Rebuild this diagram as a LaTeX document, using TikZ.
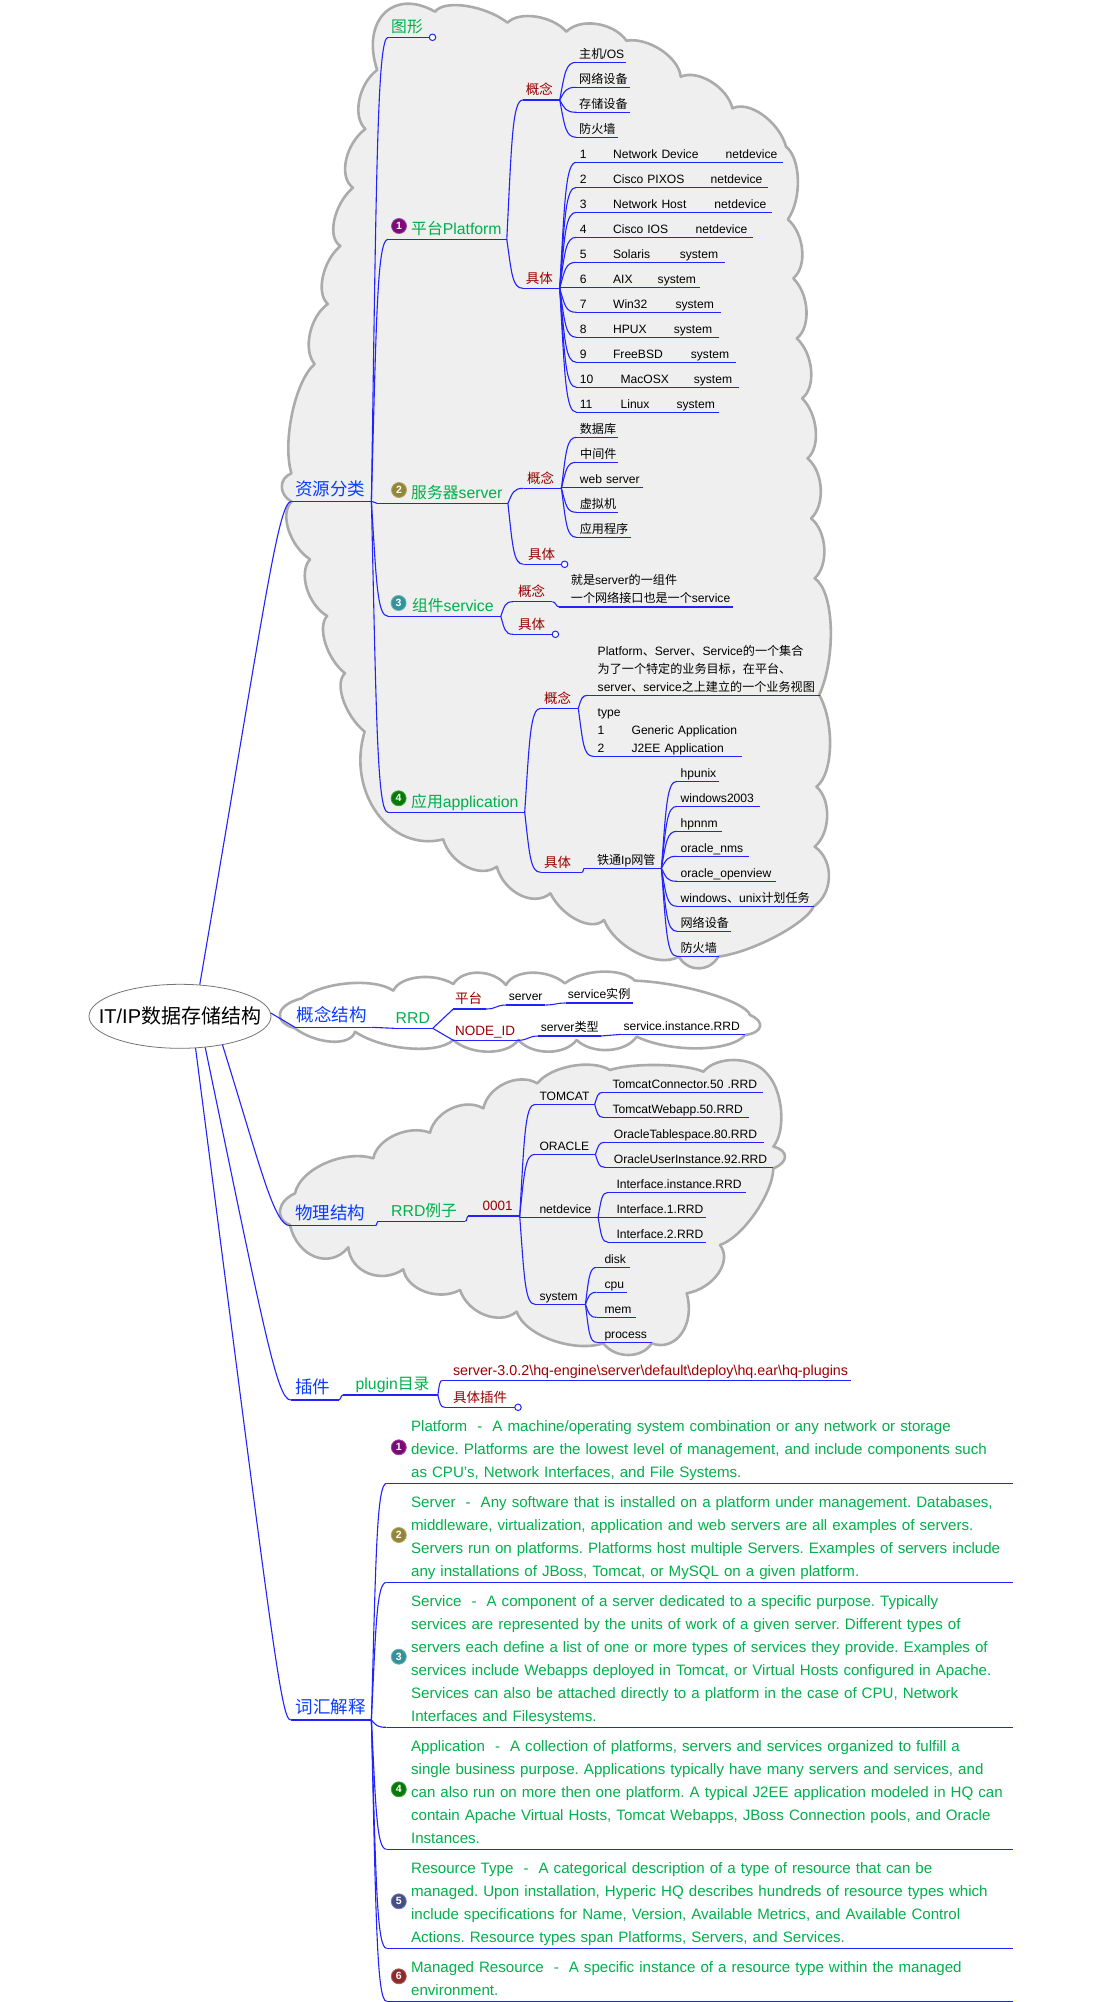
\documentclass[tikz,border=0pt]{standalone}
\usepackage{fontspec}
\setmainfont{Liberation Sans}
\newfontfamily\cjk{Noto Sans CJK SC}
\usetikzlibrary{calc,shapes.geometric}
\definecolor{linkblue}{HTML}{2222FF}
\definecolor{lblue}{HTML}{0A3CFF}
\definecolor{lgreen}{HTML}{00B04A}
\definecolor{lred}{HTML}{990000}
\definecolor{cloudfill}{HTML}{EFEFEF}
\definecolor{cloudline}{HTML}{ABABAB}
\definecolor{bpurple}{HTML}{7A0A7A}
\definecolor{bolive}{HTML}{948636}
\definecolor{bteal}{HTML}{35929A}
\definecolor{bgreen}{HTML}{067A06}
\definecolor{bnavy}{HTML}{454F85}
\definecolor{bred}{HTML}{8F2A2A}
\def\C#1{{\cjk #1}}
\frenchspacing
\newcommand\ml[1]{\begin{tabular}[b]{@{}l@{}}#1\end{tabular}}
\tikzset{
  link/.style={draw=linkblue,line width=1.1pt},
  topic/.style={inner sep=0pt,align=left},
  lvone/.style={font=\fontsize{17.5}{21}\selectfont,text=lblue,text depth=6pt},
  lvtwo/.style={font=\fontsize{15.8}{18}\selectfont,text=lgreen,text depth=5pt},
  lvred/.style={font=\fontsize{13.5}{16}\selectfont,text=lred,text depth=5pt},
  lvpath/.style={font=\fontsize{14.3}{16}\selectfont,text=lred,text depth=5pt},
  lvblk/.style={font=\fontsize{12.1}{18}\selectfont,text=black,text depth=4pt},
  lvdef/.style={font=\fontsize{15.1}{23}\selectfont,text=lgreen,text depth=6pt},
  fold/.style={circle,draw=linkblue,fill=white,line width=1pt,minimum size=6.5pt,inner sep=0pt},
  badge/.style={circle,fill=#1,draw=#1!75!white,line width=.8pt,minimum size=15pt,inner sep=0pt,text=white,font=\fontsize{10.5}{12}\selectfont\bfseries},
  cloudshape/.style={draw=cloudline,line width=2.6pt,line join=round},
  rootnode/.style={ellipse,draw=black!55,line width=.8pt,minimum width=182pt,minimum height=64pt,inner xsep=-17pt,inner ysep=0pt,font=\fontsize{20}{24}\selectfont,text=black},
}
% name x0 x1 y style textx text
\newcommand\tp[7]{%
  \pgfmathsetmacro\tpw{#3-#2}\pgfmathsetmacro\tpo{#6-#2}%
  \node[topic,#5,anchor=south west,text width=\tpw pt] (#1) at (#2,#4) {\hspace*{\tpo pt}\mbox{#7}};
  \draw[link] (#1.south west) -- (#1.south east);}
% curved connector that runs vertically and turns into the child
\newcommand\cn[2]{\draw[link] let \p1=(#1.south east),\p2=(#2.south west) in
  (\p1) .. controls ({\x1+0.3*(\x2-\x1)},{\y1+0.7*(\y2-\y1)}) and ({\x1+0.35*(\x2-\x1)},{\y2}) .. (\p2);}
% short S connector
\newcommand\sn[2]{\draw[link] let \p1=(#1.south east),\p2=(#2.south west) in
  (\p1) .. controls ({0.5*\x1+0.5*\x2},{\y1}) and ({0.5*\x1+0.5*\x2},{\y2}) .. (\p2);}
\newcommand\cnl[2]{\draw[link] (#1.south east) -- (#2.south west);}
% cloud lobe: from (#1,#2) through (#3,#4) to (#5,#6)
\def\lb#1#2#3#4#5#6{.. controls ({4/3*#3-(#1+#5)/6-0.28*(#5-#1)},{4/3*#4-(#2+#6)/6-0.28*(#6-#2)}) and ({4/3*#3-(#1+#5)/6+0.28*(#5-#1)},{4/3*#4-(#2+#6)/6+0.28*(#6-#2)}) .. (#5,#6)}
\begin{document}
\begin{tikzpicture}[x=1pt,y=-1pt]
\useasboundingbox (0,0) rectangle (1101,2002);
% ---------- clouds
\begin{scope}[shift={(270,0)},x=0.35714pt,y=-0.33333pt]
\draw[cloudshape,fill=cloudfill] (300,210)
 \lb{300}{210}{320}{40}{462}{35}
 \lb{462}{35}{550}{18}{665}{68}
 \lb{665}{68}{745}{50}{830}{95}
 \lb{830}{95}{915}{72}{998}{122}
 \lb{998}{122}{1095}{150}{1150}{230}
 \lb{1150}{230}{1235}{245}{1295}{325}
 \lb{1295}{325}{1380}{345}{1445}{440}
 \lb{1445}{440}{1478}{540}{1450}{658}
 \lb{1450}{658}{1490}{750}{1465}{835}
 \lb{1465}{835}{1502}{930}{1475}{1015}
 \lb{1475}{1015}{1515}{1110}{1490}{1195}
 \lb{1490}{1195}{1528}{1290}{1505}{1375}
 \lb{1505}{1375}{1542}{1465}{1515}{1555}
 \lb{1515}{1555}{1552}{1645}{1525}{1735}
 \lb{1525}{1735}{1570}{1880}{1538}{2085}
 \lb{1538}{2085}{1568}{2240}{1530}{2360}
 \lb{1530}{2360}{1560}{2450}{1525}{2540}
 \lb{1525}{2540}{1565}{2630}{1522}{2720}
 \lb{1522}{2720}{1415}{2810}{1255}{2870}
 \lb{1255}{2870}{1200}{2905}{1145}{2870}
 \lb{1145}{2870}{1030}{2860}{935}{2760}
 \lb{935}{2760}{860}{2760}{785}{2680}
 \lb{785}{2680}{700}{2685}{635}{2600}
 \lb{635}{2600}{550}{2600}{485}{2518}
 \lb{485}{2518}{300}{2440}{265}{2195}
 \lb{265}{2195}{205}{2100}{210}{2020}
 \lb{210}{2020}{155}{1930}{160}{1848}
 \lb{160}{1848}{103}{1765}{112}{1678}
 \lb{112}{1678}{52}{1590}{60}{1505}
 \lb{60}{1505}{33}{1460}{60}{1420}
 \lb{60}{1420}{62}{1240}{125}{1092}
 \lb{125}{1092}{112}{1000}{162}{912}
 \lb{162}{912}{148}{830}{197}{738}
 \lb{197}{738}{180}{660}{232}{563}
 \lb{232}{563}{213}{480}{267}{387}
 \lb{267}{387}{250}{300}{300}{210} -- cycle;
\end{scope}
\begin{scope}[shift={(275,970)},x=0.33333pt,y=-0.33333pt]
\draw[cloudshape] (355,62)
 \lb{355}{62}{430}{22}{535}{42}
 \lb{535}{42}{610}{8}{693}{45}
 \lb{693}{45}{770}{8}{870}{40}
 \lb{870}{40}{980}{5}{1080}{32}
 \lb{1080}{32}{1300}{70}{1425}{135}
 \lb{1425}{135}{1455}{170}{1410}{195}
 \lb{1410}{195}{1270}{235}{1085}{200}
 \lb{1085}{200}{1000}{240}{905}{210}
 \lb{905}{210}{820}{245}{730}{210}
 \lb{730}{210}{640}{245}{535}{210}
 \lb{535}{210}{400}{235}{240}{185}
 \lb{240}{185}{170}{215}{60}{175}
 \lb{60}{175}{15}{130}{80}{85}
 \lb{80}{85}{220}{40}{355}{62} -- cycle;
\end{scope}
\begin{scope}[shift={(275,1060)},x=0.33333pt,y=-0.33333pt]
\draw[cloudshape,fill=cloudfill] (295,295)
 \lb{295}{295}{360}{225}{465}{218}
 \lb{465}{218}{530}{145}{625}{145}
 \lb{625}{145}{690}{70}{787}{70}
 \lb{787}{70}{890}{18}{1005}{30}
 \lb{1005}{30}{1150}{15}{1285}{35}
 \lb{1285}{35}{1380}{0}{1475}{40}
 \lb{1475}{40}{1518}{150}{1495}{260}
 \lb{1495}{260}{1530}{290}{1495}{325}
 \lb{1495}{325}{1440}{460}{1335}{555}
 \lb{1335}{555}{1330}{640}{1235}{700}
 \lb{1235}{700}{1220}{820}{1130}{850}
 \lb{1130}{850}{1060}{885}{985}{850}
 \lb{985}{850}{830}{840}{725}{755}
 \lb{725}{755}{630}{765}{555}{690}
 \lb{555}{690}{450}{695}{385}{628}
 \lb{385}{628}{280}{640}{220}{562}
 \lb{220}{562}{120}{590}{45}{495}
 \lb{45}{495}{15}{450}{60}{400}
 \lb{60}{400}{150}{310}{295}{295} -- cycle;
\end{scope}
% ---------- root
\node[rootnode] (root) at (180,1016.3) {IT/IP\C{数据存储结构}};
% ---------- level one
\tp{res}{291.4}{371}{501.3}{lvone}{295}{\C{资源分类}}
\tp{con}{295}{371}{1027.3}{lvone}{296.7}{\C{概念结构}}
\tp{phy}{290}{375}{1225.7}{lvone}{295}{\C{物理结构}}
\tp{plg}{290.7}{338.2}{1400}{lvone}{295}{\C{插件}}
\tp{voc}{290.7}{371}{1720}{lvone}{295.5}{\C{词汇解释}}
% ---------- resources
\tp{shape}{388}{429}{37.3}{lvtwo}{391}{\C{图形}}
\node[fold] (shapef) at (432.5,37.3) {};
\tp{plat}{388}{506.4}{239.3}{lvtwo}{411}{\C{平台}Platform}
\node[badge=bpurple] (b1) at (399,226) {1};
\tp{pcon}{522.9}{559.3}{100}{lvred}{525.7}{\C{概念}}
\tp{pspec}{522.9}{559.3}{288.3}{lvred}{525.7}{\C{具体}}
\tp{pa}{576.4}{626}{62.3}{lvblk}{579}{\C{主机}/OS}
\tp{pb}{576.4}{629.6}{87.3}{lvblk}{579}{\C{网络设备}}
\tp{pc}{576.4}{629.6}{112.3}{lvblk}{579}{\C{存储设备}}
\tp{pd}{576.4}{617.5}{137.3}{lvblk}{579}{\C{防火墙}}
\newcommand\row[4]{\makebox[33.3pt][l]{#1}\makebox[#3][l]{#2}#4}
\tp{i1}{576.4}{782.9}{162.3}{lvblk}{579.6}{\row{1}{Network Device}{112.5pt}{netdevice}}
\tp{i2}{576.4}{767.5}{187.3}{lvblk}{579.6}{\row{2}{Cisco PIXOS}{97.5pt}{netdevice}}
\tp{i3}{576.4}{771.8}{212.3}{lvblk}{579.6}{\row{3}{Network Host}{101.4pt}{netdevice}}
\tp{i4}{576.4}{752.9}{237.3}{lvblk}{579.6}{\row{4}{Cisco IOS}{82.5pt}{netdevice}}
\tp{i5}{576.4}{724.6}{262.3}{lvblk}{579.6}{\row{5}{Solaris}{66.7pt}{system}}
\tp{i6}{559.3}{699.6}{287.3}{lvblk}{579.6}{\row{6}{AIX}{44.6pt}{system}}
\tp{i7}{576.4}{720.7}{312.3}{lvblk}{579.6}{\row{7}{Win32}{62.5pt}{system}}
\tp{i8}{576.4}{718.6}{337.3}{lvblk}{579.6}{\row{8}{HPUX}{60.7pt}{system}}
\tp{i9}{576.4}{735.7}{362.3}{lvblk}{579.6}{\row{9}{FreeBSD}{77.8pt}{system}}
\newcommand\rowb[4]{\makebox[40.8pt][l]{#1}\makebox[#3][l]{#2}#4}
\tp{i10}{576.4}{738.6}{387.3}{lvblk}{579.6}{\rowb{10}{MacOSX}{73.2pt}{system}}
\tp{i11}{576.4}{718.6}{412.3}{lvblk}{579.6}{\rowb{11}{Linux}{56pt}{system}}
\tp{serv}{377}{507.5}{503.3}{lvtwo}{411}{\C{服务器}server}
\node[badge=bolive] (b2) at (399,490) {2};
\tp{scon}{523.6}{561}{488.3}{lvred}{527}{\C{概念}}
\tp{sspec}{523.6}{561}{564.3}{lvred}{527.9}{\C{具体}}
\node[fold] (sspecf) at (564.6,564.3) {};
\tp{sa}{576.4}{618}{437.3}{lvblk}{579.6}{\C{数据库}}
\tp{sb}{576.4}{618}{462.3}{lvblk}{580}{\C{中间件}}
\tp{sc}{561}{642.5}{487.3}{lvblk}{579.6}{web server}
\tp{sd}{576.4}{618}{512.3}{lvblk}{579.6}{\C{虚拟机}}
\tp{se}{576.4}{630.7}{537.3}{lvblk}{579.6}{\C{应用程序}}
\tp{svc}{388}{500.4}{616.3}{lvtwo}{411.8}{\C{组件}service}
\node[badge=bteal] (b3) at (398.6,603) {3};
\tp{vcon}{512.9}{552}{601.7}{lvred}{517.9}{\C{概念}}
\tp{vtxt}{559.3}{732.5}{607}{lvblk}{570.7}{\ml{\C{就是}server\C{的一组件}\\\C{一个网络接口也是一个}service}}
\tp{vspec}{512.9}{552}{634.3}{lvred}{517.9}{\C{具体}}
\node[fold] (vspecf) at (555.4,634.3) {};
\tp{app}{388}{524.3}{812.3}{lvtwo}{411}{\C{应用}application}
\node[badge=bgreen] (b4) at (398.6,798.3) {4};
\tp{acon}{540.7}{577.9}{708.3}{lvred}{543.9}{\C{概念}}
\tp{aspec}{540.7}{581.8}{872.3}{lvred}{543.9}{\C{具体}}
\tp{atxt}{587.9}{820}{695.3}{lvblk}{597.5}{\ml{Platform\C{、}Server\C{、}Service\C{的一个集合}\\\C{为了一个特定的业务目标，在平台、}\\server\C{、}service\C{之上建立的一个业务视图}}}
\tp{atype}{593.2}{741.4}{756.3}{lvblk}{597.5}{\ml{type\\\makebox[33.9pt][l]{1}Generic Application\\\makebox[33.9pt][l]{2}J2EE Application}}
\tp{arail}{584.3}{661}{868.3}{lvblk}{596.8}{\C{铁通}Ip\C{网管}}
\tp{ra}{677}{718.6}{781.3}{lvblk}{680.4}{hpunix}
\tp{rb}{677}{759.3}{806.3}{lvblk}{680.4}{windows2003}
\tp{rc}{677}{721.8}{831.3}{lvblk}{680.4}{hpnnm}
\tp{rd}{677}{748.6}{856.3}{lvblk}{680.4}{oracle\_nms}
\tp{re}{677}{775.7}{881.3}{lvblk}{680.4}{oracle\_openview}
\tp{rf}{677}{813.6}{906.3}{lvblk}{680.4}{windows\C{、}unix\C{计划任务}}
\tp{rg}{677}{730.7}{931.3}{lvblk}{680.4}{\C{网络设备}}
\tp{rh}{677}{718.6}{956.3}{lvblk}{680.4}{\C{防火墙}}
% ---------- concept structure
\tp{rrd}{394.3}{432.3}{1028.3}{lvtwo}{395.5}{RRD}
\tp{cplat}{453.3}{485.7}{1009}{lvred}{455}{\C{平台}}
\tp{cserv}{506.3}{545}{1005}{lvblk}{508.7}{server}
\tp{cinst}{565.7}{632.7}{1003}{lvblk}{567.7}{service\C{实例}}
\tp{cnode}{453.3}{517.7}{1040.3}{lvred}{455}{NODE\_ID}
\tp{ctype}{538.3}{600.7}{1036}{lvblk}{540.7}{server\C{类型}}
\tp{crrd}{621.7}{745}{1034.3}{lvblk}{623.3}{service.instance.RRD}
% ---------- physical structure
\tp{prrd}{378.3}{465}{1221.3}{lvtwo}{391}{RRD\C{例子}}
\tp{p0}{468.3}{519.3}{1216}{lvred}{482.3}{0001}
\tp{tom}{535}{594.3}{1104.3}{lvblk}{539.3}{TOMCAT}
\tp{ora}{535}{595}{1154.3}{lvblk}{539.3}{ORACLE}
\tp{net}{519.3}{597.7}{1217.3}{lvblk}{539.3}{netdevice}
\tp{sys}{535}{585}{1304.3}{lvblk}{539.3}{system}
\tp{ta}{603.3}{762.7}{1092.3}{lvblk}{612.3}{TomcatConnector.50 .RRD}
\tp{tb}{603.3}{748.7}{1117.3}{lvblk}{612.3}{TomcatWebapp.50.RRD}
\tp{oa}{605}{763.7}{1142.3}{lvblk}{613.7}{OracleTablespace.80.RRD}
\tp{ob}{605}{772.7}{1167.3}{lvblk}{613.7}{OracleUserInstance.92.RRD}
\tp{na}{608.3}{745.7}{1192.3}{lvblk}{616.3}{Interface.instance.RRD}
\tp{nb}{597.7}{705.7}{1217.3}{lvblk}{616.3}{Interface.1.RRD}
\tp{nc}{608.3}{705.7}{1242.3}{lvblk}{616.3}{Interface.2.RRD}
\tp{ya}{596.7}{629.7}{1267.3}{lvblk}{604.3}{disk}
\tp{yb}{596.7}{627}{1292.3}{lvblk}{604.3}{cpu}
\tp{yc}{596.7}{635.7}{1317.3}{lvblk}{604.3}{mem}
\tp{yd}{596.7}{651.7}{1342.3}{lvblk}{604.3}{process}
% ---------- plugin
\tp{pdir}{343}{437.5}{1395}{lvtwo}{355.5}{plugin\C{目录}}
\tp{ppath}{442.7}{850.6}{1380.3}{lvpath}{452.8}{server-3.0.2\textbackslash hq-engine\textbackslash server\textbackslash default\textbackslash deploy\textbackslash hq.ear\textbackslash hq-plugins}
\tp{pspecb}{444.8}{515}{1407.3}{lvred}{453}{\C{具体插件}}
\node[fold] (pspecf) at (518,1407.3) {};
% ---------- glossary
\tp{d1}{386.6}{1013}{1483.3}{lvdef}{410.9}{\ml{Platform\ \ -\ \ A machine/operating system combination or any network or storage\\device. Platforms are the lowest level of management, and include components such\\as CPU's, Network Interfaces, and File Systems.}}
\node[badge=bpurple] (g1) at (398.8,1447.3) {1};
\tp{d2}{386.6}{1013}{1582.3}{lvdef}{410.9}{\ml{Server\ \ -\ \ Any software that is installed on a platform under management. Databases,\\middleware, virtualization, application and web servers are all examples of servers.\\Servers run on platforms. Platforms host multiple Servers. Examples of servers include\\any installations of JBoss, Tomcat, or MySQL on a given platform.}}
\node[badge=bolive] (g2) at (398.8,1535) {2};
\tp{d3}{386.6}{1013}{1727.3}{lvdef}{410.9}{\ml{Service\ \ -\ \ A component of a server dedicated to a specific purpose. Typically\\services are represented by the units of work of a given server. Different types of\\servers each define a list of one or more types of services they provide. Examples of\\services include Webapps deployed in Tomcat, or Virtual Hosts configured in Apache.\\Services can also be attached directly to a platform in the case of CPU, Network\\Interfaces and Filesystems.}}
\node[badge=bteal] (g3) at (398.8,1656.7) {3};
\tp{d4}{386.6}{1013}{1849.3}{lvdef}{410.9}{\ml{Application\ \ -\ \ A collection of platforms, servers and services organized to fulfill a\\single business purpose. Applications typically have many servers and services, and\\can also run on more then one platform. A typical J2EE application modeled in HQ can\\contain Apache Virtual Hosts, Tomcat Webapps, JBoss Connection pools, and Oracle\\Instances.}}
\node[badge=bgreen] (g4) at (398.8,1789.3) {4};
\tp{d5}{386.6}{1013}{1948.3}{lvdef}{410.9}{\ml{Resource Type\ \ -\ \ A categorical description of a type of resource that can be\\managed. Upon installation, Hyperic HQ describes hundreds of resource types which\\include specifications for Name, Version, Available Metrics, and Available Control\\Actions. Resource types span Platforms, Servers, and Services.}}
\node[badge=bnavy] (g5) at (398.8,1901.3) {5};
\tp{d6}{386.6}{1013}{2001.3}{lvdef}{410.9}{\ml{Managed Resource\ \ -\ \ A specific instance of a resource type within the managed\\environment.}}
\node[badge=bred] (g6) at (398.8,1976.3) {6};
% ---------- connectors from the root
\draw[link] (root.58) .. controls (264,610) and (278,501.3) .. (res.south west);
\draw[link] (root.2) -- (con.south west);
\draw[link] (root.-34) .. controls (260,1165) and (274,1225.7) .. (phy.south west);
\draw[link] (root.-51) .. controls (264,1330) and (277,1400) .. (plg.south west);
\draw[link] (root.-64) .. controls (272,1640) and (281,1720) .. (voc.south west);
% ---------- tree connectors
\cn{res}{shape} \draw[link] (shape.south east) -- (shapef);
\cn{res}{plat} \sn{res}{serv} \cn{res}{svc} \cn{res}{app}
\cn{plat}{pcon} \cn{plat}{pspec}
\foreach \k in {pa,pb,pc,pd} {\cn{pcon}{\k}}
\foreach \k in {i1,i2,i3,i4,i5,i6,i7,i8,i9,i10,i11} {\cn{pspec}{\k}}
\cn{serv}{scon} \cn{serv}{sspec} \draw[link] (sspec.south east) -- (sspecf);
\foreach \k in {sa,sb,sc,sd,se} {\cn{scon}{\k}}
\cn{svc}{vcon} \cn{svc}{vspec} \draw[link] (vspec.south east) -- (vspecf);
\sn{vcon}{vtxt}
\cn{app}{acon} \cn{app}{aspec}
\cn{acon}{atxt} \cn{acon}{atype}
\sn{aspec}{arail}
\foreach \k in {ra,rb,rc,rd,re,rf,rg,rh} {\cn{arail}{\k}}
\sn{con}{rrd}
\cnl{rrd}{cplat} \cnl{rrd}{cnode}
\sn{cplat}{cserv} \sn{cserv}{cinst}
\sn{cnode}{ctype} \sn{ctype}{crrd}
\sn{phy}{prrd} \sn{prrd}{p0}
\cn{p0}{tom} \cn{p0}{ora} \cnl{p0}{net} \cn{p0}{sys}
\cn{tom}{ta} \cn{tom}{tb}
\cn{ora}{oa} \cn{ora}{ob}
\cn{net}{na} \cnl{net}{nb} \cn{net}{nc}
\foreach \k in {ya,yb,yc,yd} {\cn{sys}{\k}}
\sn{plg}{pdir}
\cn{pdir}{ppath} \cn{pdir}{pspecb} \draw[link] (pspecb.south east) -- (pspecf);
\foreach \k in {d1,d2,d3,d4,d5,d6} {\cn{voc}{\k}}
\end{tikzpicture}
\end{document}
